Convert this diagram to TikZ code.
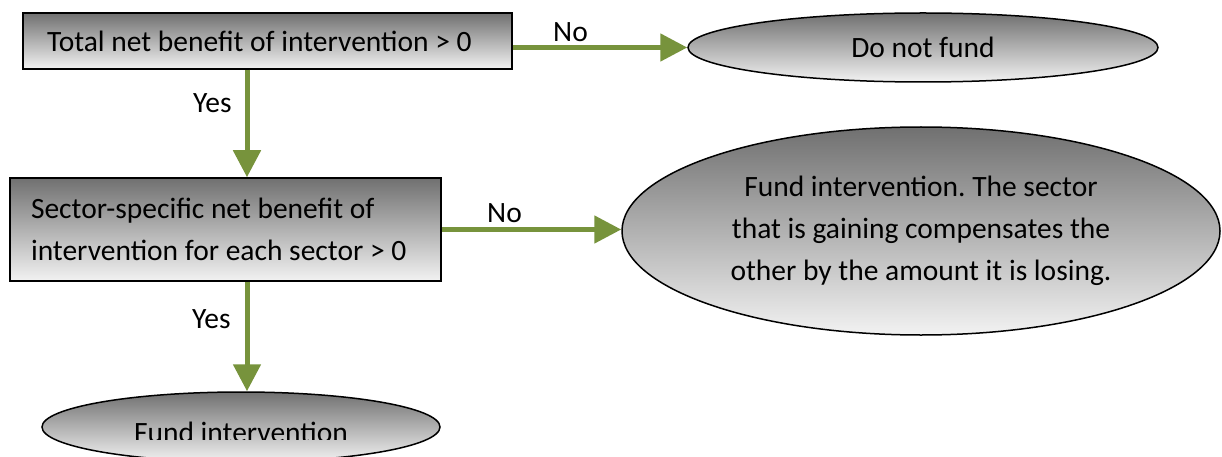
\documentclass[tikz,border=0pt]{standalone}
\usepackage{fontspec}
\setmainfont{Carlito}
\usetikzlibrary{positioning,arrows.meta,shapes.geometric}
\definecolor{flowgreen}{RGB}{119,147,60}
\frenchspacing

\begin{document}
\begin{tikzpicture}[x=1pt,y=-1pt,
        box/.style={draw=black, line width=1.5pt, top color=black!56, bottom color=black!5, inner sep=0pt, font=\fontsize{29.5}{42}\selectfont},
        oval/.style={ellipse, draw=black, line width=1.5pt, top color=black!56, bottom color=black!5, inner sep=0pt, font=\fontsize{29.5}{42}\selectfont},
        flow/.style={draw=flowgreen, line width=5pt, -{Triangle[length=27pt,width=27pt]}},
        lbl/.style={font=\fontsize{29.5}{35}\selectfont, inner sep=0pt}]

        \useasboundingbox (0,0) rectangle (1222,457);
        \coordinate (spine) at (247,0);

        % questions
        \node[box, minimum width=489, minimum height=56, text width=441, align=flush left] (total) at (267.5,41) {Total net benefit of intervention > 0};
        \node[box, minimum width=431, minimum height=103, text width=389, align=flush left] (sector) at (225.5,229.5) {Sector-specific net benefit of\\intervention for each sector > 0};

        % outcomes
        \node[oval, minimum width=470, minimum height=69] (nofund) at (923,47.5) {\raisebox{-3pt}{Do not fund}};
        \node[oval, minimum width=598, minimum height=208, align=center] (compensate) at (921,231) {Fund intervention. The sector\\that is gaining compensates the\\other by the amount it is losing.};
        \node[oval, minimum width=398, minimum height=70] (fund) at (241,427) {};
        \begin{scope}
            \clip (0,0) rectangle (1222,439);
            \node[lbl, anchor=base] (fundtxt) at (241,442) {Fund intervention};
        \end{scope}

        % arrows
        \draw[flow] (total.east |- nofund.west) -- (nofund.west);
        \draw[flow] (total.south -| spine) -- (sector.north -| spine);
        \draw[flow] (sector.east) -- (sector.east -| compensate.west);
        \draw[flow] (sector.south -| spine) -- (fund.north -| spine);

        % labels
        \node[lbl, anchor=base west] (no1) at (553,42) {No};
        \node[lbl, anchor=base west] (yes1) at (193,113) {Yes};
        \node[lbl, anchor=base west] (no2) at (487,222) {No};
        \node[lbl, anchor=base west] (yes2) at (192,328) {Yes};

\end{tikzpicture}
\end{document}
